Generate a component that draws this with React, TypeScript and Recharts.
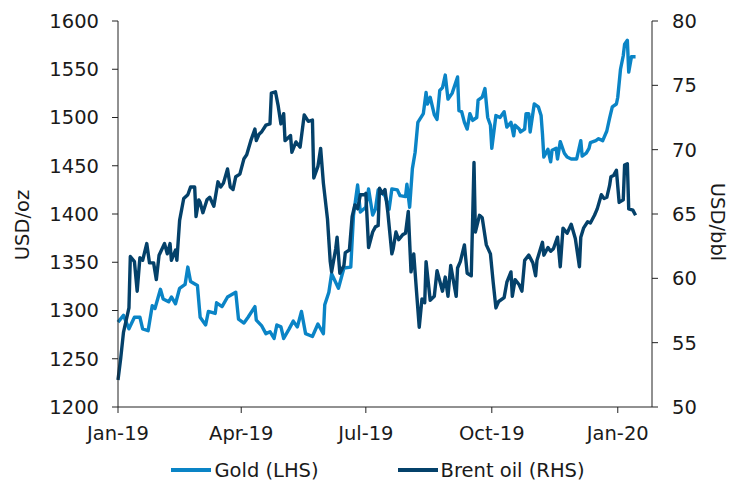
import { LineChart, Line, XAxis, YAxis, Legend } from 'recharts';

// days counted from 1 Jan 2019
const goldDays = [
  0, 4, 8, 12, 16, 18, 22, 25, 27, 31, 33, 37, 39, 42, 45, 49, 51, 53, 58, 60, 64, 66, 71, 72, 76, 80, 86, 88, 92, 95,
  100, 101, 105, 108, 111, 114, 116, 119, 121, 125, 128, 131, 134, 137, 142, 146, 150, 151, 154, 156, 161, 165, 170,
  172, 175, 177, 181, 183, 186, 188, 190, 195, 198, 200, 204, 206, 210, 211, 213, 215, 217, 219, 223, 225, 226, 228,
  231, 233, 235, 237, 239, 241, 244, 248, 249, 251, 253, 255, 257, 259, 262, 263, 266, 268, 270, 272, 273, 276, 279,
  282, 284, 287, 289, 290, 293, 294, 297, 298, 300, 301, 304, 307, 309, 310, 311, 314, 316, 317, 320, 321, 323, 326,
  328, 331, 333, 335, 338, 339, 342, 344, 345, 349, 351, 354, 357, 359, 361, 364, 365, 367, 369, 370, 372, 373, 375,
  378,
];
const goldValues = [
  1288, 1295, 1281, 1293, 1293, 1281, 1279, 1305, 1302, 1322, 1312, 1309, 1314, 1307, 1323, 1327, 1345, 1330, 1326,
  1293, 1285, 1299, 1297, 1308, 1304, 1314, 1319, 1291, 1287, 1293, 1304, 1290, 1284, 1276, 1278, 1271, 1285, 1283,
  1271, 1281, 1289, 1283, 1299, 1276, 1273, 1286, 1276, 1306, 1319, 1338, 1323, 1344, 1345, 1399, 1430, 1402, 1407,
  1426, 1399, 1405, 1425, 1419, 1405, 1426, 1425, 1419, 1418, 1431, 1407, 1447, 1464, 1495, 1504, 1526, 1514, 1521,
  1503, 1498, 1528, 1531, 1544, 1519, 1525, 1542, 1507, 1506, 1495, 1488, 1504, 1497, 1500, 1518, 1521, 1530, 1500,
  1492, 1468, 1502, 1500, 1506, 1490, 1495, 1481, 1492, 1488, 1485, 1488, 1504, 1504, 1485, 1514, 1511, 1502, 1483,
  1459, 1467, 1454, 1466, 1468, 1457, 1475, 1463, 1459, 1457, 1457, 1457, 1476, 1460, 1463, 1468, 1474, 1476, 1478,
  1476, 1486, 1499, 1511, 1514, 1521, 1550, 1564, 1576, 1580, 1547, 1563, 1563,
];

const oilDays = [
  0, 2, 4, 8, 9, 12, 14, 16, 18, 21, 23, 26, 28, 30, 34, 36, 38, 39, 42, 43, 45, 48, 51, 53, 56, 57, 59, 60, 62, 65,
  67, 70, 73, 75, 77, 80, 82, 84, 86, 89, 92, 94, 97, 100, 101, 103, 105, 108, 111, 112, 115, 117, 119, 121, 122, 126,
  127, 130, 133, 136, 139, 142, 143, 146, 148, 150, 153, 155, 156, 159, 160, 162, 165, 166, 169, 171, 173, 175, 177,
  180, 181, 183, 186, 188, 190, 191, 193, 195, 197, 200, 201, 203, 205, 208, 210, 212, 214, 216, 218, 220, 222, 224,
  225, 228, 231, 233, 237, 239, 241, 243, 247, 248, 250, 253, 255, 258, 260, 261, 264, 266, 269, 272, 274, 276, 278,
  282, 284, 287, 288, 290, 293, 295, 297, 300, 303, 305, 306, 308, 310, 311, 314, 316, 318, 321, 323, 325, 328, 331,
  334, 337, 338, 340, 343, 345, 348, 350, 353, 355, 357, 359, 360, 362, 364, 366, 369, 370, 372, 373, 376, 378,
];
const oilValues = [
  52.1, 53.8, 55.8, 57.7, 61.7, 61.3, 59.0, 61.6, 61.4, 62.7, 61.2, 61.2, 59.9, 61.8, 62.7, 61.9, 62.7, 61.4, 62.2,
  61.4, 64.5, 66.2, 66.5, 67.1, 67.1, 64.8, 66.1, 65.9, 65.1, 66.1, 66.3, 65.6, 67.5, 67.1, 67.4, 68.5, 67.1, 66.9,
  67.9, 68.1, 69.3, 69.6, 70.7, 71.6, 70.7, 71.2, 71.4, 71.9, 72.0, 74.4, 74.5, 73.4, 72.0, 72.8, 70.7, 71.1, 69.8,
  70.6, 70.2, 72.7, 72.2, 72.3, 67.8, 68.7, 70.1, 67.4, 64.6, 61.3, 60.5, 62.3, 63.2, 60.4, 61.0, 62.0, 62.2, 64.8,
  65.7, 65.4, 66.5, 66.5, 66.6, 62.4, 63.6, 64.0, 64.1, 67.0, 66.6, 66.9, 65.2, 61.9, 62.3, 63.6, 63.0, 63.4, 63.5,
  65.2, 60.5, 61.9, 59.0, 56.2, 58.4, 58.1, 61.3, 58.3, 58.6, 60.6, 59.0, 60.1, 58.6, 61.0, 58.6, 60.8, 61.3, 62.6,
  60.4, 60.2, 69.0, 63.6, 64.9, 64.7, 62.6, 61.9, 59.7, 57.7, 58.2, 58.5, 59.7, 60.5, 58.6, 59.9, 59.5, 59.0, 61.4,
  61.8, 61.2, 60.2, 61.4, 62.1, 62.8, 61.8, 62.4, 62.1, 62.3, 63.2, 60.9, 63.9, 63.5, 64.2, 63.1, 60.9, 63.2, 63.9,
  64.4, 64.3, 64.9, 65.4, 66.5, 66.2, 66.3, 67.2, 67.9, 68.0, 68.4, 65.9, 66.1, 68.8, 68.9, 65.4, 65.3, 64.9,
];

const xTicks = [0, 90, 181, 273, 365];
const xTickLabels = ['Jan-19', 'Apr-19', 'Jul-19', 'Oct-19', 'Jan-20'];
const goldTicks = [1200, 1250, 1300, 1350, 1400, 1450, 1500, 1550, 1600];
const oilTicks = [50, 55, 60, 65, 70, 75, 80];

const goldData = goldDays.map((day, i) => ({ day, gold: goldValues[i] }));
const oilData = oilDays.map((day, i) => ({ day, oil: oilValues[i] }));

const FONT = 'DejaVu Sans';
const TEXT = '#1a1a1a';
const AXIS = '#222';
const GOLD = '#0a84c6';
const OIL = '#04416a';

const tickStyle = { fontFamily: FONT, fontSize: 19.5, fill: TEXT };

const LegendContent = () => (
  <div
    style={{
      display: 'flex',
      justifyContent: 'center',
      alignItems: 'center',
      boxSizing: 'border-box',
      height: 34,
      paddingTop: 14,
      paddingLeft: 20,
      fontFamily: FONT,
      fontSize: 19.5,
      color: TEXT,
    }}
  >
    <span style={{ display: 'inline-block', width: 40, height: 4, background: GOLD, marginRight: 3 }} />
    <span>Gold (LHS)</span>
    <span style={{ display: 'inline-block', width: 40, height: 4, background: OIL, marginLeft: 79, marginRight: 3 }} />
    <span>Brent oil (RHS)</span>
  </div>
);

const App = () => {
  return (
    <div style={{ position: 'absolute', left: 0, top: 0, width: 736, height: 480, background: '#fff' }}>
      <LineChart width={736} height={480} margin={{ top: 21, right: 0, left: 0, bottom: 0 }}>
        <XAxis
          dataKey="day"
          type="number"
          domain={[0, 390]}
          ticks={xTicks}
          tickFormatter={(v) => xTickLabels[xTicks.indexOf(v)] ?? ''}
          tick={tickStyle}
          tickSize={6}
          tickMargin={13}
          height={39}
          stroke={AXIS}
        />
        <YAxis
          yAxisId="left"
          domain={[1200, 1600]}
          ticks={goldTicks}
          tick={tickStyle}
          tickSize={6}
          tickMargin={13}
          width={118}
          stroke={AXIS}
          label={() => (
            <text
              x={22}
              y={225}
              transform="rotate(-90 22 225)"
              textAnchor="middle"
              dominantBaseline="central"
              style={tickStyle}
            >
              USD/oz
            </text>
          )}
        />
        <YAxis
          yAxisId="right"
          orientation="right"
          domain={[50, 80]}
          ticks={oilTicks}
          tick={tickStyle}
          tickSize={6}
          tickMargin={14}
          width={84}
          stroke={AXIS}
          label={() => (
            <text
              x={717}
              y={222}
              transform="rotate(90 717 222)"
              textAnchor="middle"
              dominantBaseline="central"
              style={tickStyle}
            >
              USD/bbl
            </text>
          )}
        />
        <Legend verticalAlign="bottom" height={34} content={LegendContent} />
        <Line
          yAxisId="left"
          data={goldData}
          dataKey="gold"
          name="Gold (LHS)"
          type="linear"
          stroke={GOLD}
          strokeWidth={3.4}
          strokeLinejoin="round"
          dot={false}
          isAnimationActive={false}
        />
        <Line
          yAxisId="right"
          data={oilData}
          dataKey="oil"
          name="Brent oil (RHS)"
          type="linear"
          stroke={OIL}
          strokeWidth={3.4}
          strokeLinejoin="round"
          dot={false}
          isAnimationActive={false}
        />
      </LineChart>
    </div>
  );
};

export default App;
